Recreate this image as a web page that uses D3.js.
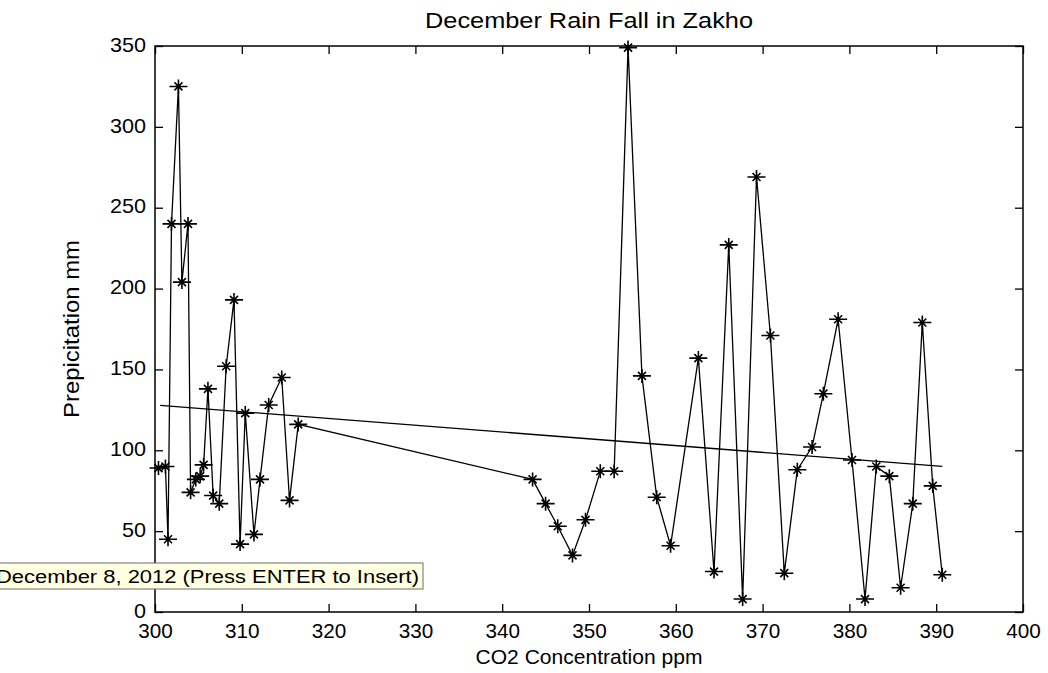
<!DOCTYPE html>
<html>
<head>
<meta charset="utf-8">
<script src="https://cdn.jsdelivr.net/npm/d3@7"></script>
<style>
  html, body { margin: 0; padding: 0; background: #fff; }
  svg { display: block; }
  text { font-family: "Liberation Sans", Arial, sans-serif; fill: #000; }
</style>
</head>
<body>
<script>
// CO2 concentration (ppm) for each December record
const co2 = [
  300.4, 301.2, 301.5, 301.9, 302.7, 303.1, 303.8, 304.1, 304.7, 305.2,
  305.6, 306.1, 306.7, 307.4, 308.2, 309.1, 309.8, 310.4, 311.4, 312.1,
  313.1, 314.6, 315.5, 316.5,
  343.5, 345.0, 346.4, 348.1, 349.6, 351.3, 352.9, 354.5, 356.1, 357.8,
  359.4, 362.6, 364.4, 366.1, 367.7, 369.3, 370.9, 372.5, 374.0, 375.7,
  377.0, 378.7, 380.3, 381.8, 383.1, 384.6, 385.9, 387.3, 388.4, 389.6,
  390.7
];
// December precipitation in Zakho (mm)
const rain = [
  89, 90, 45, 240, 325, 204, 240, 74, 82, 84,
  91, 138, 72, 67, 152, 193, 42, 123, 48, 82,
  128, 145, 69, 116,
  82, 67, 53, 35, 57, 87, 87, 349, 146, 71,
  41, 157, 25, 227, 8, 269, 171, 24, 88, 102,
  135, 181, 94, 8, 90, 84, 15, 67, 179, 78,
  23
];
// Linear trend: end points (ppm, mm)
const trendX = [300.6, 390.7];
const trendY = [127.8, 90.0];

const xTicks = [300, 310, 320, 330, 340, 350, 360, 370, 380, 390, 400];
const yTicks = [0, 50, 100, 150, 200, 250, 300, 350];

const W = 1048, H = 673;
const m = { left: 155, right: 1023, top: 46, bottom: 612 };

const svg = d3.select("body").append("svg").attr("width", W).attr("height", H);

const x = d3.scaleLinear().domain([300, 400]).range([m.left, m.right]);
const y = d3.scaleLinear().domain([0, 350]).range([m.bottom, m.top]);

// Axes box with inward ticks on all four sides
const g = svg.append("g");
const tickLen = 8;
const axisStyle = sel => {
  sel.select(".domain").remove();
  sel.selectAll(".tick line").attr("stroke", "#000").attr("stroke-width", 1.3);
  sel.selectAll(".tick text").attr("font-size", 21)
     .attr("font-family", "'Liberation Sans', Arial, sans-serif").attr("fill", "#000")
     .attr("transform", "scale(1.1,1.05)");
};

g.append("g").attr("transform", `translate(0,${m.bottom})`)
  .call(d3.axisBottom(x).tickValues(xTicks).tickSize(-tickLen).tickPadding(14).tickFormat(d3.format("d")))
  .call(axisStyle)
  .call(s => s.selectAll(".tick text").attr("transform", null)
    .attr("textLength", d => String(d).length * 11.5).attr("lengthAdjust", "spacingAndGlyphs")
    .attr("dy", "0.55em"));
g.append("g").attr("transform", `translate(0,${m.top})`)
  .call(d3.axisTop(x).tickValues(xTicks).tickSize(-tickLen).tickFormat(""))
  .call(axisStyle);
g.append("g").attr("transform", `translate(${m.left},0)`)
  .call(d3.axisLeft(y).tickValues(yTicks).tickSize(-tickLen).tickPadding(9).tickFormat(d3.format("d")))
  .call(axisStyle)
  .call(s => s.selectAll(".tick text").attr("transform", null)
    .attr("textLength", d => String(d).length * 12).attr("lengthAdjust", "spacingAndGlyphs")
    .attr("dy", "0.25em"));
g.append("g").attr("transform", `translate(${m.right},0)`)
  .call(d3.axisRight(y).tickValues(yTicks).tickSize(-tickLen).tickFormat(""))
  .call(axisStyle);

g.append("rect")
  .attr("x", m.left).attr("y", m.top)
  .attr("width", m.right - m.left).attr("height", m.bottom - m.top)
  .attr("fill", "none").attr("stroke", "#000").attr("stroke-width", 1.5);

// Trend line
svg.append("line")
  .attr("x1", x(trendX[0])).attr("y1", y(trendY[0]))
  .attr("x2", x(trendX[1])).attr("y2", y(trendY[1]))
  .attr("stroke", "#000").attr("stroke-width", 1.3);

// Rainfall series
const pts = co2.map((c, i) => [c, rain[i]]);
svg.append("path")
  .datum(pts)
  .attr("fill", "none").attr("stroke", "#000").attr("stroke-width", 1.3)
  .attr("d", d3.line().x(d => x(d[0])).y(d => y(d[1])));

// Asterisk markers
const star = "M-9,0H9M0,-7V7M-4,-4L4,4M-4,4L4,-4";
svg.append("g").selectAll("path")
  .data(pts)
  .join("path")
  .attr("transform", d => `translate(${x(d[0])},${y(d[1])})`)
  .attr("d", star)
  .attr("stroke", "#000").attr("stroke-width", 1.6).attr("fill", "none");

// Titles
svg.append("text").attr("x", 589).attr("y", 28).attr("text-anchor", "middle")
  .attr("font-size", 22).attr("textLength", 328).attr("lengthAdjust", "spacingAndGlyphs")
  .text("December Rain Fall in Zakho");
svg.append("text").attr("x", 589).attr("y", 664).attr("text-anchor", "middle")
  .attr("font-size", 21).attr("textLength", 227).attr("lengthAdjust", "spacingAndGlyphs")
  .text("CO2 Concentration ppm");
svg.append("text")
  .attr("transform", `translate(79,${(m.top + m.bottom) / 2}) rotate(-90)`)
  .attr("text-anchor", "middle").attr("font-size", 22)
  .attr("textLength", 178).attr("lengthAdjust", "spacingAndGlyphs")
  .text("Prepicitation mm");

// Date tip
const tip = svg.append("g");
tip.append("rect").attr("x", -2).attr("y", 563).attr("width", 425).attr("height", 26)
  .attr("fill", "#ffffe1").attr("stroke", "#6d6d6d").attr("stroke-width", 1);
tip.append("text").attr("x", -4).attr("y", 583).attr("font-size", 18)
  .attr("font-family", "'DejaVu Sans', sans-serif")
  .attr("textLength", 423).attr("lengthAdjust", "spacingAndGlyphs")
  .text("December 8, 2012  (Press ENTER to Insert)");
</script>
</body>
</html>
